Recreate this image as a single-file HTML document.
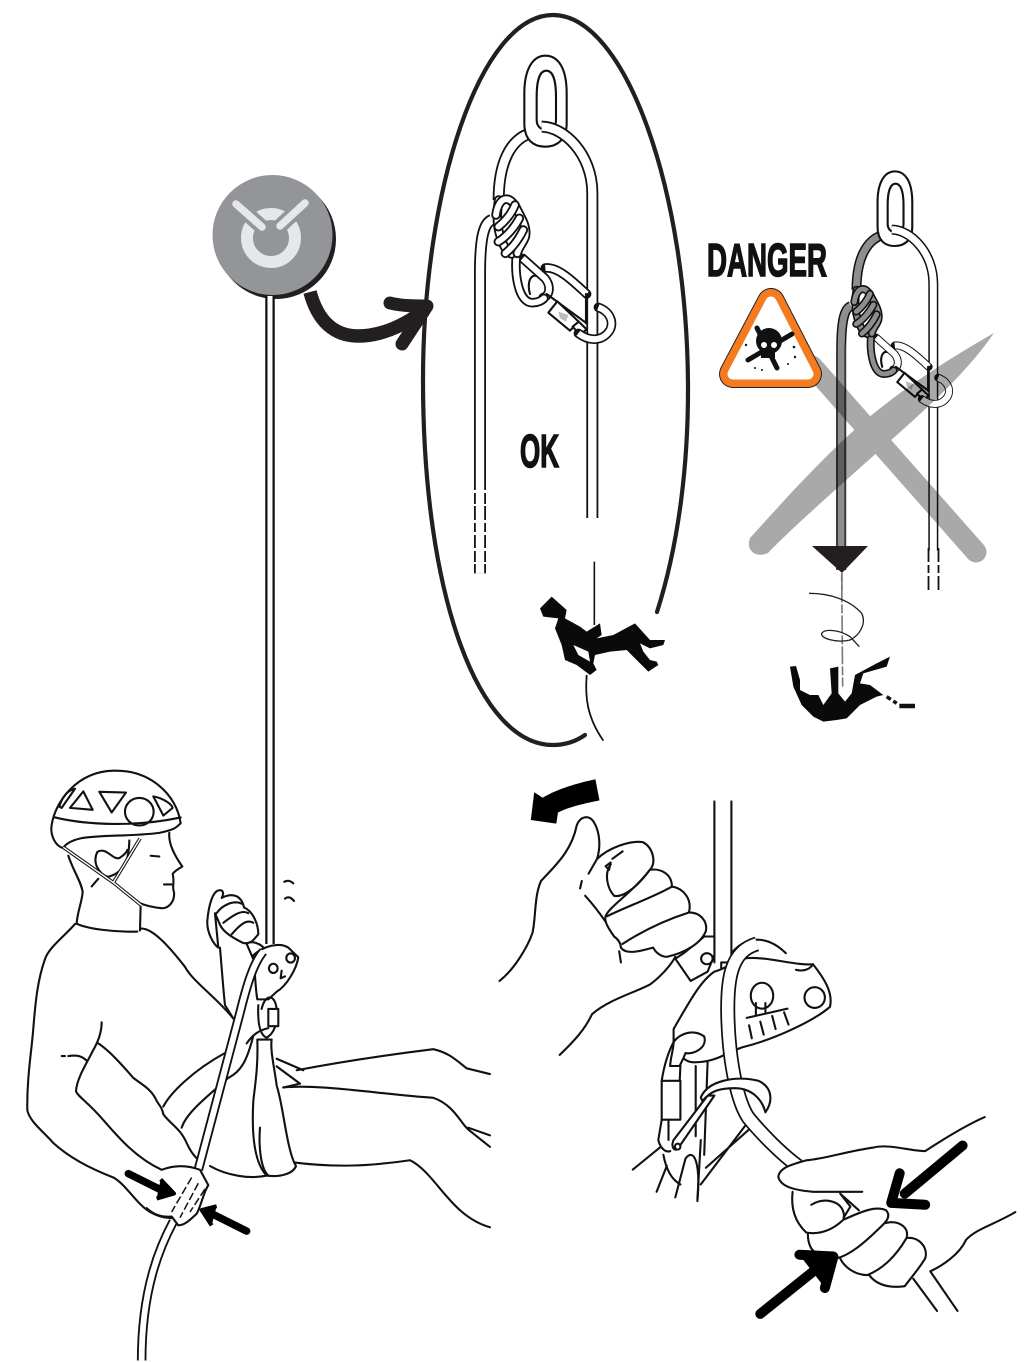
<!DOCTYPE html>
<html><head><meta charset="utf-8"><title>Diagram</title>
<style>
html,body{margin:0;padding:0;background:#fff}
svg{display:block}
svg *{vector-effect:non-scaling-stroke}
.l{fill:none;stroke:#111;stroke-width:2.1;stroke-linecap:round;stroke-linejoin:round}
.w{fill:#fff;stroke:#111;stroke-width:2.1;stroke-linecap:round;stroke-linejoin:round}
.n{fill:#fff;stroke:none}
.o{fill:none;stroke:#111;stroke-width:var(--o,12);stroke-linecap:butt}
.i{fill:none;stroke:#fff;stroke-width:var(--i,8.4);stroke-linecap:butt}
.ko{fill:none;stroke:#111;stroke-width:var(--ko,9.5);stroke-linecap:round}
.k{fill:none;stroke:var(--kc,#fff);stroke-width:var(--k,5.8);stroke-linecap:round}
.gi{fill:none;stroke:var(--kc,#fff);stroke-width:var(--i,8.4);stroke-linecap:butt}
text{font-family:"Liberation Sans Narrow","Liberation Sans",sans-serif;font-weight:bold;fill:#111;stroke:#111;stroke-width:1.6}
</style></head><body>
<svg xmlns="http://www.w3.org/2000/svg" width="1024" height="1362" viewBox="0 0 1024 1362">
<rect width="1024" height="1362" fill="#fff"/>
<defs>
<g id="anchor" transform="translate(430,40) scale(.33333)">
  <path class="o" d="M185,540C160,550 150,600 150,700L150,1600"/><path class="gi" d="M185,540C160,550 150,600 150,700L150,1600"/>
  <path class="o" d="M300,280C240,300 206,370 206,480"/><path class="gi" d="M300,280C240,300 206,370 206,480"/>
  <path class="w" d="M346,47C385,47 410,85 410,160L410,250C410,300 380,320 346,320C310,320 283,300 283,250L283,160C283,85 310,47 346,47ZM349,92C330,92 320,120 320,170L320,240C320,280 378,280 378,240L378,170C378,120 368,92 349,92Z" fill-rule="evenodd"/>
  <path class="o" d="M335,260C400,260 487,340 487,460L487,1434"/><path class="i" d="M335,260C400,260 487,340 487,460L487,1434"/>
  <!-- carabiner -->
  <path class="l" d="M300,762C288,720 308,692 332,716"/>
  <path class="ko" d="M346,684C385,680 430,725 470,762"/><path class="i" style="--i:6" d="M346,684C385,680 430,725 470,762"/>
  <path class="ko" d="M278,655L345,715C365,740 358,768 340,772"/><path class="i" style="--i:6" d="M278,655L345,715C365,740 358,768 340,772"/>
  <path class="l" d="M350,762L470,850M468,762V850"/>
  <path class="w" d="M355,818L382,784L446,845L420,872Z"/>
  <path d="M385,815L415,825L408,845L390,835Z" fill="#bbb"/>
  <path class="w" d="M428,860L446,845L470,868L450,884Z"/>
  <!-- loop of rope through carabiner -->
  <path class="ko" d="M262,625C250,700 265,792 310,788C325,787 335,782 342,775"/><path class="k" d="M262,625C250,700 265,792 310,788C325,787 335,782 342,775"/>
  <!-- ring in front of the rope -->
  <path class="ko" d="M505,802C540,815 552,845 540,870C518,905 478,905 445,880"/><path class="i" style="--i:6.2" d="M505,802C540,815 552,845 540,870C518,905 478,905 445,880"/>
  <!-- knot -->
  <path class="ko" d="M206,480C200,520 200,560 212,592C220,618 232,638 245,642"/><path class="k" d="M206,480C200,520 200,560 212,592C220,618 232,638 245,642"/>
  <path class="ko" d="M198,525C205,470 240,460 262,510C275,535 292,560 286,590C280,610 266,620 262,640"/><path class="k" d="M198,525C205,470 240,460 262,510C275,535 292,560 286,590C280,610 266,620 262,640"/>
  <path class="ko" d="M205,560C225,545 245,520 255,495"/><path class="k" d="M205,560C225,545 245,520 255,495"/>
  <path class="ko" d="M205,605C230,590 255,560 268,535"/><path class="k" d="M205,605C230,590 255,560 268,535"/>
  <path class="ko" d="M226,640C245,625 265,600 280,570"/><path class="k" d="M226,640C245,625 265,600 280,570"/>
</g>
</defs>

<!-- Left oval -->
<path d="M657,612C680,540 688,460 688,390C688,190 625,15 553,15C480,15 423,190 423,380C423,600 480,745 553,745C565,745 575,742 585,735" fill="none" stroke="#231f20" stroke-width="4.2" stroke-linecap="round"/>
<use href="#anchor"/>
<path d="M480,490V573" stroke="#fff" stroke-width="15" stroke-dasharray="3 11 2 14 3 9 3 13" fill="none"/>
<text x="520" y="467" font-size="46" textLength="39" lengthAdjust="spacingAndGlyphs">OK</text>

<!-- Right anchor -->
<g style="--o:10;--i:7;--ko:8;--k:4.8;--kc:#8e8e8e">
  <use href="#anchor" transform="translate(894.5,202) scale(.82) translate(-545,-93)"/>
</g>
<path d="M845,345V546" stroke="#444" stroke-width="1.6" fill="none"/>
<path d="M928.5,548V590M938.5,548V590" stroke="#111" stroke-width="1.8" stroke-dasharray="14 3 8 3" fill="none"/>
<rect x="832" y="570" width="20" height="30" fill="#fff"/>
<!-- X -->
<g style="mix-blend-mode:multiply">
  <path d="M812,366L976,552" stroke="#a9a9a9" stroke-width="21" stroke-linecap="round" fill="none"/>
  <path d="M994,333C950,358 900,390 860,425C820,460 780,505 750,538C745,552 758,558 768,553C790,530 835,490 880,450C925,410 965,375 994,333Z" fill="#a9a9a9"/>
</g>
<path d="M812,546H868L842,573Z" fill="#231f20"/>
<path d="M842,573V590" stroke="#777" stroke-width="1.5"/>

<!-- Danger -->
<text x="707" y="276" font-size="46" textLength="120" lengthAdjust="spacingAndGlyphs">DANGER</text>
<path d="M771,302L808,374H733Z" fill="#231f20" stroke="#231f20" stroke-width="28" stroke-linejoin="round"/>
<path d="M771,302L808,374H733Z" fill="#f47b20" stroke="#f47b20" stroke-width="26" stroke-linejoin="round"/>
<path d="M771,302L808,374H733Z" fill="#fff" stroke="#fff" stroke-width="11" stroke-linejoin="round"/>
<g stroke="#111" stroke-width="5" stroke-linecap="round">
  <path d="M757,328L777,368M792,334L748,360"/>
</g>
<circle cx="769" cy="341" r="13" fill="#111"/><rect x="761" y="346" width="14" height="12" fill="#111"/>
<circle cx="764" cy="345" r="3" fill="#fff"/><circle cx="774" cy="345" r="3" fill="#fff"/>
<g fill="#111"><circle cx="746" cy="345" r="1.2"/><circle cx="794" cy="347" r="1.3"/><circle cx="795" cy="357" r="1.2"/><circle cx="755" cy="368" r="1"/><circle cx="762" cy="370" r="1"/><circle cx="788" cy="364" r="1"/></g>

<!-- Badge -->
<circle cx="276" cy="239" r="60" fill="#231f20"/>
<circle cx="272.5" cy="235" r="60" fill="#939598"/>
<circle cx="271" cy="238" r="24" fill="none" stroke="#e6e7e8" stroke-width="12"/>
<path d="M236,204L262,227M305,203L280,226" stroke="#939598" stroke-width="15" stroke-linecap="round" fill="none"/>
<path d="M236,204L262,227M305,203L280,226" stroke="#e6e7e8" stroke-width="7.5" stroke-linecap="round" fill="none"/>
<path d="M270,944V296" stroke="#111" stroke-width="9.5" fill="none"/>
<path d="M270,944V296" stroke="#fff" stroke-width="5" fill="none"/>
<!-- Curved arrow -->
<path d="M310,292C318,322 335,336 358,336C380,336 402,327 425,310" fill="none" stroke="#231f20" stroke-width="13.5"/>
<path d="M390,303C402,306 415,306 427,306L402,344" fill="none" stroke="#231f20" stroke-width="13" stroke-linecap="round" stroke-linejoin="round"/>

<!-- Little climbers -->
<g transform="translate(530,580) scale(.33333)">
  <path d="M193,-55V135" stroke="#111" stroke-width="1.6" fill="none"/>
  <path fill="#0a0a0a" d="M30,85L65,50L110,90L105,115L150,140L170,155L210,130L215,165L200,175L250,165L315,130L360,180L405,180L400,195L360,205L330,190L340,215L360,240L380,245L385,255L355,275L290,210L240,215L195,225L190,250L200,270L180,285L140,255L105,240L95,195L75,145L85,115L40,110Z"/>
  <path fill="#fff" d="M130,195L175,215L180,245L145,225Z"/>
  <path d="M170,285C165,350 170,410 220,482" stroke="#111" stroke-width="1.8" fill="none"/>
  <path fill="#0a0a0a" d="M780,260L798,258L810,300L810,330L840,345L865,345L880,375L905,340L900,265L925,260L925,340L945,365L965,340L975,285L1040,250L1080,230L1070,260L1000,280L990,310L1020,315L1060,345L1040,350L990,375L950,415L920,420L880,425L850,410L815,375L790,320Z"/>
  <path d="M1070,350L1100,370" stroke="#111" stroke-width="3.5" stroke-dasharray="5 3" fill="none"/>
  <path d="M1108,378H1155" stroke="#111" stroke-width="4.5" fill="none"/>
  <path d="M935,-20L938,320" stroke="#777" stroke-width="1.6" stroke-dasharray="9 2 18 2" fill="none"/>
  <path d="M837,40C900,40 960,60 995,100C1010,130 990,165 960,180C920,190 870,175 875,160C885,145 930,150 960,170L988,200" stroke="#222" stroke-width="1.3" fill="none"/>
</g>

<!-- Person -->
<g transform="translate(20,760) scale(.3333,.383)">
  <path class="l" d="M165,428C140,455 85,490 75,520C50,580 45,650 40,700C35,760 20,830 22,915C30,945 70,970 100,1000C150,1040 220,1070 280,1090C320,1110 350,1160 390,1180C420,1195 445,1198 470,1195"/>
  <path class="l" d="M172,428C200,440 280,450 352,448M362,378L360,445M365,440C400,440 450,490 495,540C520,580 590,620 640,675"/>
  <path class="l" d="M145,250C160,290 185,320 188,345C185,375 172,395 170,428M215,330L235,310"/>
  <path class="l" d="M245,685C245,710 235,735 218,760C205,785 170,830 168,865C175,880 200,890 250,940C300,990 350,1040 425,1070"/>
  <path class="l" d="M125,773H135M145,773C170,770 185,772 200,785"/>
  <path class="l" d="M235,740C270,760 310,800 340,830C370,850 395,860 410,890C420,905 425,905 430,925C450,950 480,960 500,1000C510,1020 520,1030 530,1040"/>
  <path class="l" d="M430,905C450,870 520,810 615,765M485,960C500,920 560,880 625,830C660,815 680,790 700,720"/>
  <path class="l" d="M830,810C950,790 1100,770 1240,755C1290,765 1310,785 1340,805L1410,820"/>
  <path class="l" d="M790,855C900,845 1100,875 1240,882C1300,900 1320,945 1345,965L1410,1010M1345,960L1410,980"/>
  <path class="l" d="M815,1050C950,1065 1050,1060 1170,1045C1250,1080 1290,1190 1410,1220"/>
  <path class="l" d="M570,1060C620,1085 690,1095 740,1085"/>
  <path class="w" d="M700,890C695,970 700,1050 740,1085C780,1090 820,1080 828,1060C800,1020 790,900 770,850C765,810 750,760 755,730L712,730C715,800 705,850 700,890Z"/>
  <path class="l" d="M720,960C715,1020 725,1070 745,1085M770,780L850,810M770,800L840,845M790,855L840,845"/>
  <!-- helmet -->
  <path class="w" d="M130,230C105,225 90,195 95,170C105,110 170,30 280,28C390,25 470,90 482,165C470,175 470,180 420,190C340,200 230,195 180,205C155,210 135,220 130,230Z"/>
  <path class="l" d="M105,150C200,170 350,175 482,150"/>
  <path class="l" d="M150,125L190,82L218,130ZM238,83L318,85L275,137ZM400,95C430,100 455,115 458,125L430,145ZM118,122C125,100 140,80 165,75L125,125Z"/>
  <ellipse cx="358" cy="135" rx="43" ry="36" class="l"/>
  <!-- face -->
  <path class="l" d="M448,190C445,215 460,245 487,278C475,285 462,290 458,298C465,320 455,330 462,345C465,370 445,388 425,387C400,385 375,380 355,372"/>
  <path class="l" d="M392,250L418,252M432,325L455,325"/>
  <path class="l" d="M232,240C215,270 240,300 265,305C285,300 310,290 322,255C326,240 328,225 328,210M232,240C260,225 280,265 300,255C312,248 320,240 322,235"/>
  <path d="M130,228L280,320L360,205M280,320L365,380" fill="none" stroke="#111" stroke-width="3.5"/>
  <path d="M130,228L280,320L360,205M280,320L365,380" fill="none" stroke="#fff" stroke-width="1.4"/>
  <path class="l" d="M793,318C805,312 815,318 820,322M795,362C805,355 815,360 822,368"/>
  <!-- upper hand -->
  <path class="l" d="M600,490C605,540 610,600 615,640L640,675"/>
  <path class="w" d="M595,490C580,480 560,450 562,420C565,390 575,340 600,340C610,340 612,350 605,360C640,345 665,355 672,385C700,395 715,430 715,455C700,470 695,480 670,478C640,465 610,450 600,430L585,400Z"/>
  <path class="l" d="M590,400C605,380 640,365 665,375M610,425C640,405 665,390 685,400M635,455C660,430 680,415 700,425"/>
  <path class="w" d="M680,480C695,470 725,480 735,495L700,520Z"/>
  <!-- device -->
  <path class="w" d="M700,510C730,485 780,475 805,490L835,515C830,545 800,590 770,605L745,625L712,625C705,590 705,540 700,510Z"/>
  <ellipse cx="760" cy="544" rx="13" ry="12" class="l"/><ellipse cx="812" cy="517" rx="13" ry="12" class="l"/>
  <path class="l" d="M785,550L782,570L795,565M725,650C735,610 765,610 770,650C775,690 760,715 740,725C725,720 712,700 715,640"/>
  <rect x="745" y="650" width="30" height="45" class="w"/>
  <path class="o" style="--o:9.5" d="M730,500C700,530 680,590 660,660L535,1070"/><path class="i" style="--i:5.8" d="M730,500C700,530 680,590 660,660L535,1070"/>
  <path class="l" d="M680,740C700,715 720,705 745,700"/>
  <path class="o" style="--o:9.5" d="M460,1205C420,1270 365,1380 365,1568"/><path class="i" style="--i:5.8" d="M460,1205C420,1270 365,1380 365,1568"/>
  <!-- lower hand -->
  <path class="w" d="M425,1070C470,1055 510,1060 540,1070L565,1110C550,1130 545,1160 530,1185C510,1200 495,1215 475,1215L455,1192C420,1195 400,1185 380,1170"/>
  <path d="M515,1090L455,1180M535,1105L480,1195M555,1120L510,1180" fill="none" stroke="#111" stroke-width="1.5" stroke-dasharray="8 3"/>
  <path d="M325,1080L440,1130" stroke="#000" stroke-width="7.5" stroke-linecap="round" fill="none"/>
  <path d="M422,1095L462,1132L410,1145" fill="#000" stroke="#000" stroke-width="4" stroke-linejoin="round"/>
  <path d="M680,1230L565,1180" stroke="#000" stroke-width="7.5" stroke-linecap="round" fill="none"/>
  <path d="M590,1165L545,1175L575,1215" fill="#000" stroke="#000" stroke-width="4" stroke-linejoin="round"/>
</g>

<!-- Right scene -->
<g transform="translate(490,770) scale(.34,.37)">
  <path d="M120,135L130,60L155,75C200,50 260,35 310,25L322,82C280,90 230,100 200,115L195,145Z" fill="#000"/>
  <path class="l" d="M660,85V520M710,85V500"/>
  <!-- upper device parts -->
  <path class="w" d="M545,510L590,570L640,545L660,500V450L630,450L570,495Z"/>
  <ellipse cx="638" cy="510" rx="17" ry="15" class="l"/>
  <path class="l" d="M680,520H700V540H680Z"/>
  <path class="w" d="M660,545C620,570 590,620 540,700L540,745C560,770 570,790 600,790C640,790 670,780 700,765L740,750C830,730 950,680 1000,640C1010,600 980,560 950,525C900,530 800,500 745,510L720,520C700,530 680,540 660,545Z"/>
  <path class="l" d="M715,490C760,445 820,450 870,495M900,540C920,545 940,540 950,525"/>
  <ellipse cx="800" cy="610" rx="33" ry="35" class="l"/>
  <ellipse cx="955" cy="615" rx="30" ry="28" class="l"/>
  <path class="l" d="M755,670L875,645M782,660L782,630M810,655L810,630M762,690L770,725M795,680L805,715M830,665L840,700M865,655L878,688"/>
  <path class="w" d="M540,735C560,710 600,700 630,720C640,750 600,770 575,765C565,790 555,800 560,800L530,800C530,780 540,755 540,735Z"/>
  <!-- carabiner & harness -->
  <path class="l" d="M540,735C520,770 510,810 505,840M605,800L605,990M640,790L630,1040"/>
  <rect x="505" y="840" width="55" height="105" class="w"/>
  <path class="l" d="M530,800H560L558,840M505,945L495,1000C500,1020 515,1035 530,1030M525,945V1000"/>
  <path class="l" d="M620,1120L760,950M635,1075L770,965M610,1160L620,1000"/>
  <path class="l" d="M420,1080L500,1020M490,1140L520,1070M545,1155L575,1050C600,1020 620,1060 610,1165M510,1040C520,1090 540,1110 560,1120"/>
  <path class="w" d="M540,1000L640,880L660,880L555,1020C545,1035 530,1020 540,1000Z"/>
  <circle cx="552" cy="1018" r="8" class="w"/>
  <!-- main rope -->
  <path class="o" style="--o:15;" d="M785,470C710,490 695,560 700,680C705,800 730,900 760,940C800,985 860,1040 905,1070"/>
  <path class="i" style="--i:11.5" d="M785,470C710,490 695,560 700,680C705,800 730,900 760,940C800,985 860,1040 905,1070"/>
  <path class="w" d="M620,885C640,840 720,825 790,840C835,860 830,900 810,925C800,890 770,860 720,860C680,860 650,865 625,895Z"/>
  <!-- thumb hand -->
  <path class="l" d="M205,770C250,730 280,700 300,660C350,620 430,600 470,580C500,560 530,530 545,505"/>
  <path class="n" d="M28,570C70,540 110,480 125,440C135,400 130,340 150,300C190,260 240,220 255,150C265,125 290,120 305,140C325,170 325,210 315,240C350,210 410,190 450,195C480,210 490,250 470,270C500,265 535,280 535,315C570,320 595,350 585,385C620,385 640,410 635,435C620,470 570,495 520,505C500,505 485,490 480,480C440,490 400,500 385,480L375,510L300,520L160,520Z"/>
  <path class="l" d="M28,570C70,540 110,480 125,440C135,400 130,340 150,300C190,260 240,220 255,150C265,125 290,120 305,140C325,170 325,210 315,240L290,280"/>
  <path class="l" d="M315,240C350,210 410,190 450,195C480,210 490,250 470,270C500,265 535,280 535,315C570,320 595,350 585,385C620,385 640,410 635,435C620,470 570,495 520,505C500,505 485,490 480,480C440,490 400,500 385,480C385,470 380,460 365,450C350,430 335,410 340,395C350,370 420,330 470,270"/>
  <path class="l" d="M390,470C440,440 500,410 585,385M345,395C400,370 490,340 535,315M470,270C430,320 390,345 365,340C345,320 335,280 355,255M340,260L355,250L350,270ZM360,240L390,220"/>
  <path class="l" d="M270,300L265,320M280,340C300,360 325,390 340,410M380,490L385,520"/>
  <!-- lower hand -->
  <path class="n" d="M1455,938C1400,960 1330,1000 1280,1030C1240,1030 1170,1010 1130,1020C1050,1030 990,1050 930,1055C890,1065 850,1075 848,1100C855,1125 885,1135 890,1140C885,1180 895,1220 935,1255C935,1280 945,1300 960,1305L1030,1320C1040,1340 1070,1365 1110,1365C1140,1395 1180,1400 1220,1395L1295,1355L1400,1270L1300,1100Z"/>
  <path class="l" d="M1455,938C1400,960 1330,1000 1280,1030C1240,1030 1170,1010 1130,1020C1050,1030 990,1050 930,1055C890,1065 850,1075 848,1100C855,1125 890,1135 950,1140L1095,1140"/>
  <path class="l" d="M890,1140C885,1180 895,1220 930,1250C960,1255 1000,1250 1040,1215C1045,1190 1030,1170 1000,1165C975,1160 955,1170 945,1175"/>
  <path class="l" d="M1040,1215C1080,1200 1130,1175 1165,1190C1180,1205 1165,1220 1160,1225C1100,1280 1060,1310 1020,1320"/>
  <path class="l" d="M1160,1225C1200,1215 1235,1235 1225,1265C1190,1320 1150,1350 1110,1365C1070,1365 1040,1340 1030,1320"/>
  <path class="l" d="M1225,1265C1260,1260 1290,1290 1280,1320C1260,1350 1240,1370 1220,1395C1180,1400 1140,1395 1115,1365"/>
  <path class="l" d="M935,1255C935,1280 945,1300 960,1305M1030,1145L1085,1190M1040,1210L1060,1180L1030,1145"/>
  <path class="l" d="M1545,1195C1480,1230 1430,1240 1400,1270C1380,1310 1330,1340 1295,1355M1245,1375L1315,1462M1295,1355L1375,1462"/>
  <path d="M1390,1015L1220,1145" stroke="#000" stroke-width="10" stroke-linecap="round" fill="none"/>
  <path d="M1205,1090L1180,1170L1280,1175" fill="none" stroke="#000" stroke-width="10" stroke-linecap="round" stroke-linejoin="round"/>
  <path d="M795,1470L985,1330" stroke="#000" stroke-width="10" stroke-linecap="round" fill="none"/>
  <path d="M910,1310L1010,1315L985,1400" fill="#000" stroke="#000" stroke-width="10" stroke-linecap="round" stroke-linejoin="round"/>
</g>
</svg>
</body></html>
